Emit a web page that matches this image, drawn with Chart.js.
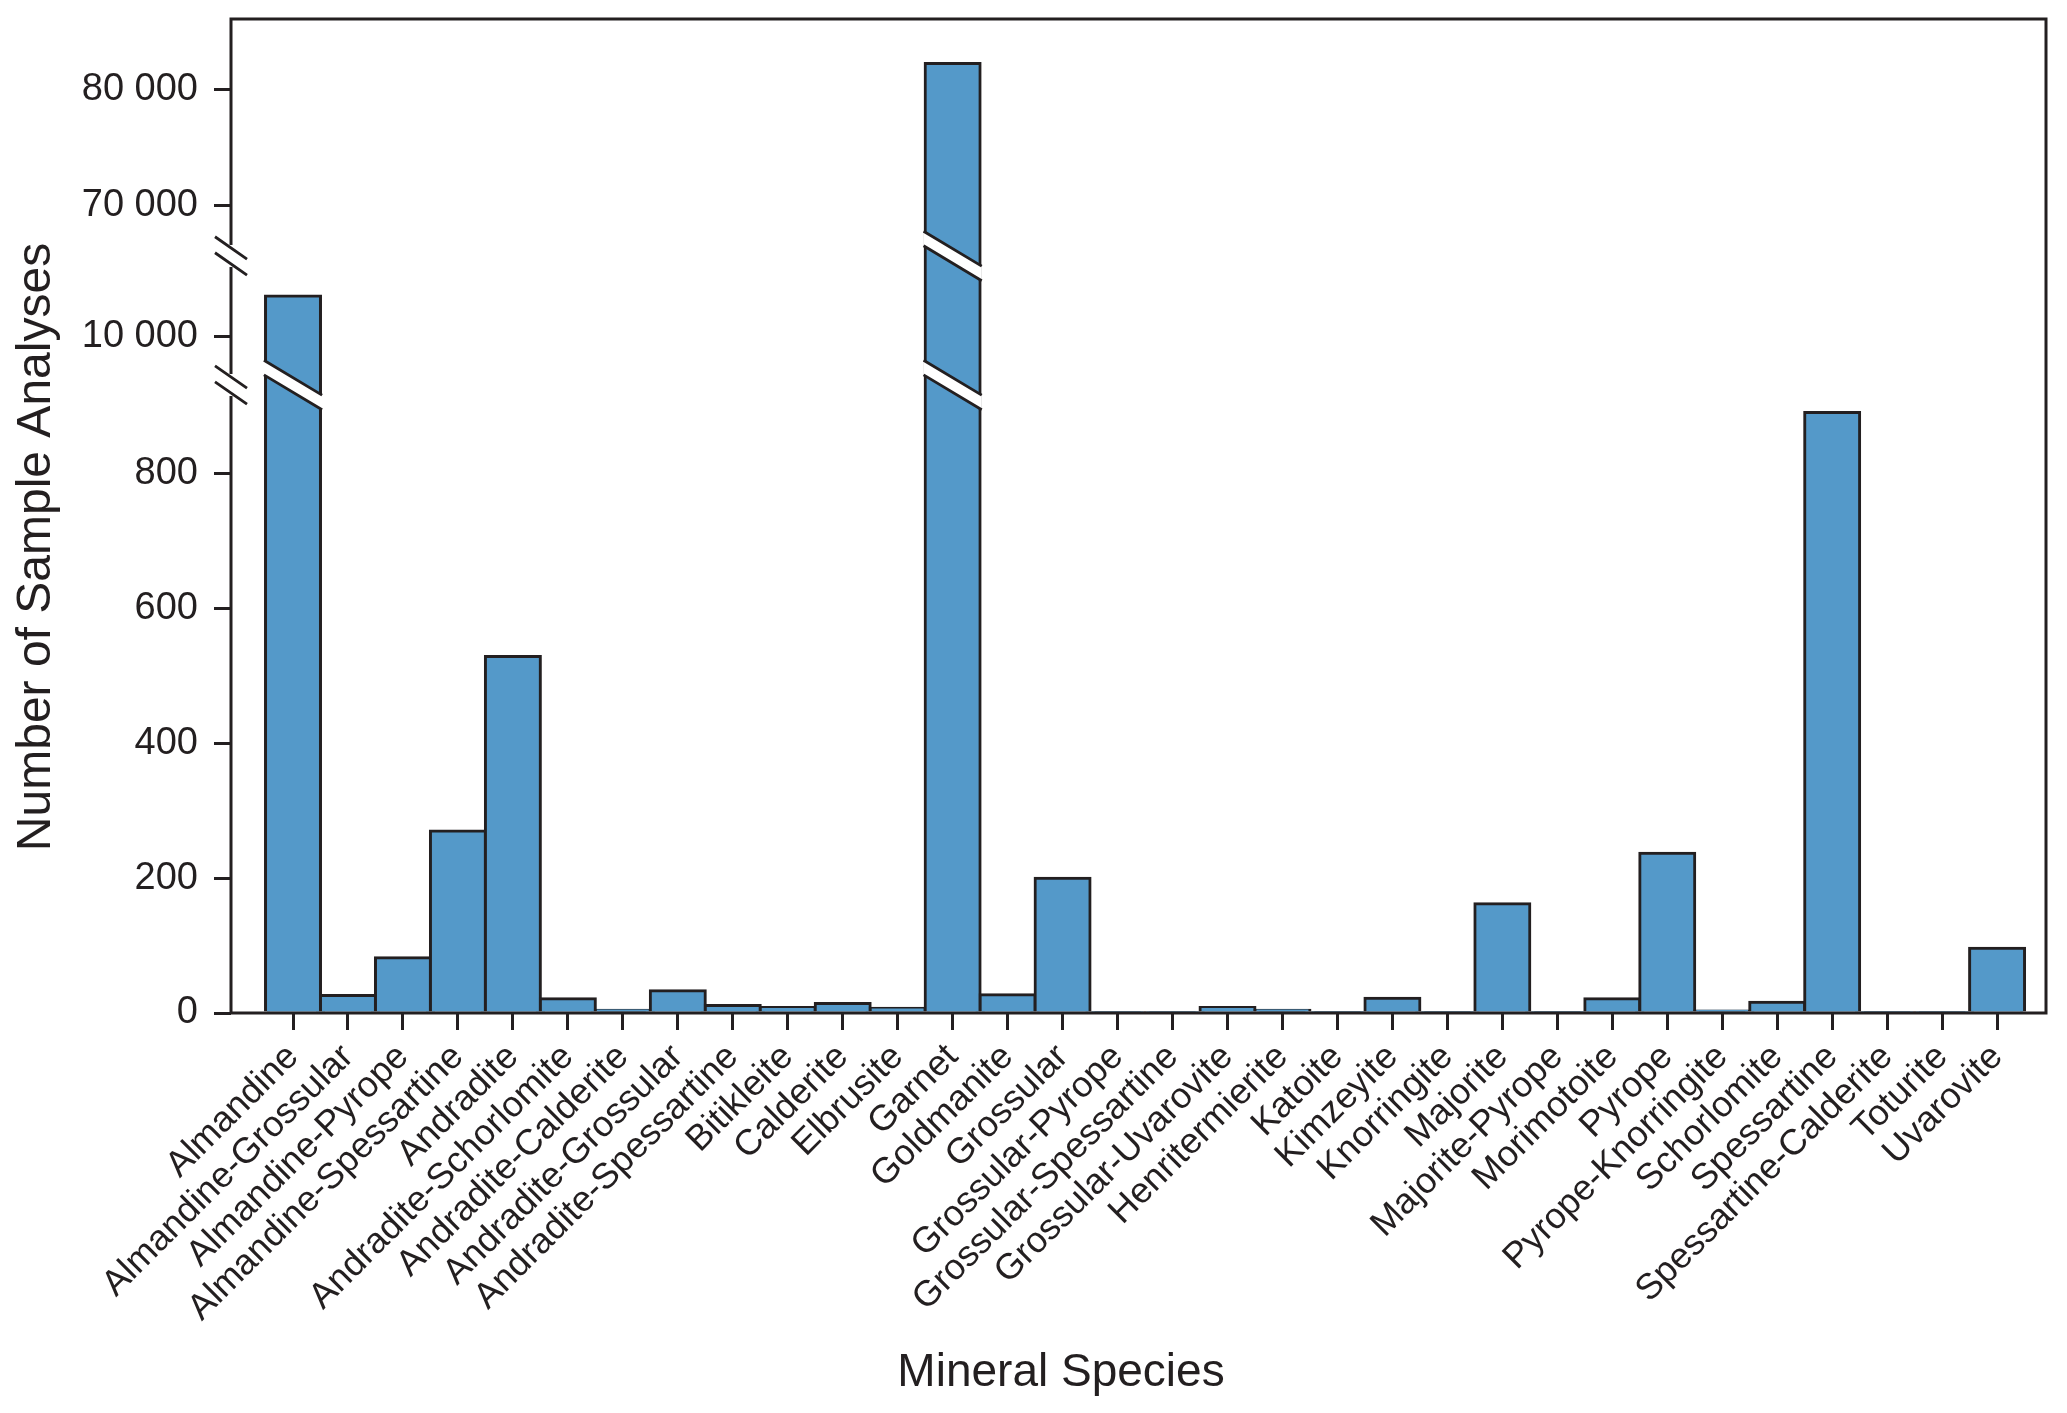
<!DOCTYPE html>
<html>
<head>
<meta charset="utf-8">
<title>Garnet species - sample analyses</title>
<script src="https://cdn.jsdelivr.net/npm/chart.js@4.4.1/dist/chart.umd.min.js"></script>
<style>
  html, body { margin: 0; padding: 0; background: #fff; }
  #wrap { width: 2067px; height: 1413px; }
</style>
</head>
<body>
<div id="wrap"><canvas id="speciesChart"></canvas></div>
<script>
// Mineral species (x axis)
const species = [
  'Almandine', 'Almandine-Grossular', 'Almandine-Pyrope', 'Almandine-Spessartine',
  'Andradite', 'Andradite-Schorlomite', 'Andradite-Calderite', 'Andradite-Grossular',
  'Andradite-Spessartine', 'Bitikleite', 'Calderite', 'Elbrusite', 'Garnet',
  'Goldmanite', 'Grossular', 'Grossular-Pyrope', 'Grossular-Spessartine',
  'Grossular-Uvarovite', 'Henritermierite', 'Katoite', 'Kimzeyite', 'Knorringite',
  'Majorite', 'Majorite-Pyrope', 'Morimotoite', 'Pyrope', 'Pyrope-Knorringite',
  'Schorlomite', 'Spessartine', 'Spessartine-Calderite', 'Toturite', 'Uvarovite'
];

// Number of sample analyses per species
const analyses = [
  10835, 26, 82, 270,
  529, 21, 4, 33,
  11, 8, 14, 7, 82300,
  27, 200, 1, 2,
  8, 4, 1, 22, 1,
  162, 1, 21, 237, 3,
  16, 891, 1, 2, 96
];

// y axis tick values
const yTicks = [0, 200, 400, 600, 800, 10000, 70000, 80000];

// broken y axis: value range of each piece and the share of the axis it takes
const ySegments = [
  { min: 0, max: 932, from: 0, to: 0.6318 },
  { min: 9000, max: 11660, from: 0.6318, to: 0.7616 },
  { min: 65653, max: 86137, from: 0.7616, to: 1 }
];

const ink = '#231f20';
const barBlue = '#5499c9';
const font = '"Liberation Sans", Arial, Helvetica, sans-serif';

// linear scale that maps each value range onto its own piece of the axis
class BrokenScale extends Chart.LinearScale {
  buildTicks() {
    return yTicks.map(v => ({ value: v }));
  }
  getPixelForValue(value) {
    let dec = 1;
    for (const s of ySegments) {
      if (value <= s.max) {
        const v = Math.max(value, s.min);
        dec = s.from + (v - s.min) / (s.max - s.min) * (s.to - s.from);
        break;
      }
    }
    return this.getPixelForDecimal(dec);
  }
  getValueForPixel(pixel) {
    const dec = this.getDecimalForPixel(pixel);
    const s = ySegments.find(seg => dec <= seg.to) || ySegments[ySegments.length - 1];
    return s.min + (dec - s.from) / (s.to - s.from) * (s.max - s.min);
  }
}
BrokenScale.id = 'broken';
BrokenScale.defaults = Chart.LinearScale.defaults;
Chart.register(BrokenScale);

// white diagonal cut with a dark edge on each side
function cutBand(ctx, xl, xr, xc, yc, slope, half) {
  const yAt = (x, d) => yc + slope * (x - xc) + d;
  ctx.fillStyle = '#fff';
  ctx.beginPath();
  ctx.moveTo(xl, yAt(xl, -half));
  ctx.lineTo(xr, yAt(xr, -half));
  ctx.lineTo(xr, yAt(xr, half));
  ctx.lineTo(xl, yAt(xl, half));
  ctx.closePath();
  ctx.fill();
  ctx.beginPath();
  ctx.moveTo(xl, yAt(xl, -half));
  ctx.lineTo(xr, yAt(xr, -half));
  ctx.moveTo(xl, yAt(xl, half));
  ctx.lineTo(xr, yAt(xr, half));
  ctx.stroke();
}

const frameAndBreaks = {
  id: 'frameAndBreaks',
  afterDatasetsDraw(chart) {
    const { ctx, chartArea: a, scales: { y } } = chart;
    const meta = chart.getDatasetMeta(0);
    ctx.save();
    ctx.strokeStyle = ink;
    ctx.lineWidth = 3;
    ctx.strokeRect(a.left, a.top, a.right - a.left, a.bottom - a.top);

    ctx.lineWidth = 2.8;
    ySegments.slice(0, -1).forEach(seg => {
      const yb = y.getPixelForValue(seg.max);
      meta.data.forEach((bar, i) => {
        if (analyses[i] <= seg.max) return;
        const { x, width } = bar.getProps(['x', 'width'], true);
        cutBand(ctx, x - width / 2 - 1.6, x + width / 2 + 1.6, x, yb, 0.6, 7.3);
      });
      // the // marks on the left spine
      const x0 = a.left;
      ctx.fillStyle = '#fff';
      ctx.fillRect(x0 - 3, yb - 8 - 3, 6, 22);
      ctx.beginPath();
      ctx.moveTo(x0 - 16, yb - 8 - 11.2);
      ctx.lineTo(x0 + 16, yb - 8 + 11.2);
      ctx.moveTo(x0 - 16, yb + 8 - 11.2);
      ctx.lineTo(x0 + 16, yb + 8 + 11.2);
      ctx.stroke();
    });
    ctx.restore();
  },
  afterDraw(chart) {
    const { ctx } = chart;
    ctx.save();
    ctx.fillStyle = ink;
    ctx.textAlign = 'center';
    ctx.textBaseline = 'alphabetic';
    ctx.font = '46px ' + font;
    ctx.fillText('Mineral Species', 1061, 1386);
    ctx.font = '48px ' + font;
    ctx.translate(50, 547);
    ctx.rotate(-Math.PI / 2);
    ctx.fillText('Number of Sample Analyses', 0, 0);
    ctx.restore();
  }
};

const thousands = v => String(v).replace(/\B(?=(\d{3})+(?!\d))/g, ' ');

new Chart(document.getElementById('speciesChart'), {
  type: 'bar',
  data: {
    datasets: [{
      label: 'Number of Sample Analyses',
      data: analyses.map((v, i) => ({ x: i, y: v })),
      backgroundColor: barBlue,
      borderColor: ink,
      borderWidth: 3,
      inflateAmount: 1.5,
      borderSkipped: 'start',
      barPercentage: 1,
      categoryPercentage: 1
    }]
  },
  options: {
    responsive: true,
    maintainAspectRatio: false,
    devicePixelRatio: 1,
    animation: false,
    events: [],
    layout: { padding: { top: 19, right: 21, left: 0, bottom: 0 } },
    plugins: {
      legend: { display: false },
      tooltip: { enabled: false }
    },
    scales: {
      x: {
        type: 'linear',
        offset: false,
        min: -1.128,
        max: 31.89,
        afterBuildTicks: scale => {
          scale.ticks = species.map((s, i) => ({ value: i }));
        },
        afterFit: scale => {
          scale.height = 400;
          scale.paddingLeft = 0;
          scale.paddingRight = 0;
        },
        grid: {
          offset: false,
          drawOnChartArea: false,
          drawTicks: true,
          tickLength: 17,
          color: ink,
          lineWidth: 3
        },
        border: { display: false },
        ticks: {
          autoSkip: false,
          minRotation: 45,
          maxRotation: 45,
          padding: 6,
          color: ink,
          font: { family: font, size: 36 },
          callback: (value, index) => species[index]
        }
      },
      y: {
        type: 'broken',
        min: 0,
        max: 86137,
        afterFit: scale => {
          scale.width = 231;
          scale.paddingTop = 0;
          scale.paddingBottom = 0;
        },
        grid: {
          drawOnChartArea: false,
          drawTicks: true,
          tickLength: 17,
          color: ink,
          lineWidth: 3
        },
        border: { display: false },
        ticks: {
          autoSkip: false,
          padding: 16,
          color: ink,
          font: { family: font, size: 38 },
          callback: v => thousands(v)
        }
      }
    }
  },
  plugins: [frameAndBreaks]
});
</script>
</body>
</html>
